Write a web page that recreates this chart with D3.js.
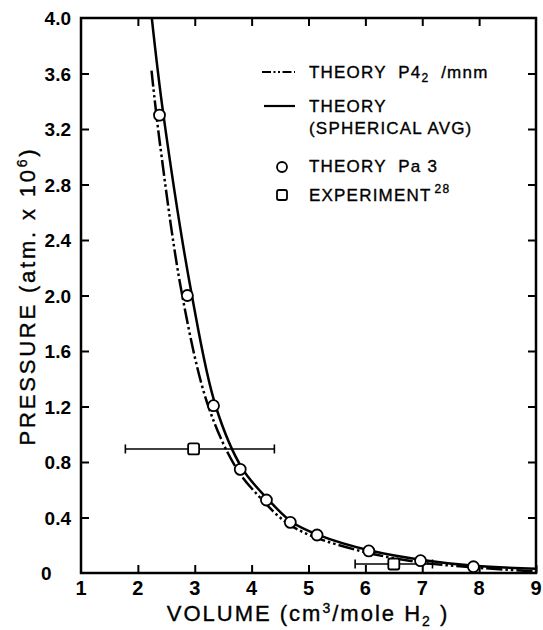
<!DOCTYPE html>
<html>
<head>
<meta charset="utf-8">
<script src="https://cdn.jsdelivr.net/npm/d3@7"></script>
<style>
  body { margin: 0; background: #fff; }
  svg { display: block; }
  text { font-family: "Liberation Sans", Arial, sans-serif; fill: #000; }
  .heavy { stroke: #000; stroke-width: 0.35px; }
</style>
</head>
<body>
<div id="vis"></div>
<script>
const WIDTH = 543;
const HEIGHT = 630;

// curva "THEORY (SPHERICAL AVG)"
const solidV = [2.245, 2.45, 2.95, 3.37, 3.84, 4.30, 4.70, 5.17, 6.08, 7.0, 7.92, 9.0];
const solidP = [4.0, 3.30, 2.0, 1.2, 0.75, 0.526, 0.37, 0.275, 0.162, 0.094, 0.052, 0.03];

// curva "THEORY P4_2/mnm" (punto-raya)
const dashV = [2.24, 2.38, 2.78, 3.24, 3.74, 4.19, 4.59, 5.04, 6.0, 6.95, 7.9, 9.0];
const dashP = [3.62, 3.12, 2.0, 1.2, 0.75, 0.526, 0.37, 0.27, 0.15, 0.078, 0.04, 0.012];

// circulos "THEORY Pa3"
const circV = [2.38, 2.87, 3.33, 3.80, 4.26, 4.68, 5.15, 6.06, 6.97, 7.90];
const circP = [3.30, 2.00, 1.206, 0.747, 0.526, 0.365, 0.274, 0.159, 0.089, 0.045];

// experimento (cuadrados con barras horizontales)
const expV = [2.98, 6.50];
const expP = [0.894, 0.065];
const expLo = [1.78, 5.82];
const expHi = [4.40, 7.18];

const xTicks = [1, 2, 3, 4, 5, 6, 7, 8, 9];
const yTicks = [0, 0.4, 0.8, 1.2, 1.6, 2.0, 2.4, 2.8, 3.2, 3.6, 4.0];

const X0 = 81, X1 = 536, Y0 = 573, Y1 = 18;

const svg = d3.select("#vis").append("svg")
  .attr("width", WIDTH).attr("height", HEIGHT);

const x = d3.scaleLinear().domain([1, 9]).range([X0, X1]);
const y = d3.scaleLinear().domain([0, 4]).range([Y0, Y1]);

svg.append("clipPath").attr("id", "plot")
  .append("rect")
  .attr("x", X0).attr("y", Y1)
  .attr("width", X1 - X0).attr("height", Y0 - Y1);

// ejes con ticks hacia adentro
const TK = 8;
svg.append("g").attr("transform", `translate(0,${Y0})`)
  .call(d3.axisTop(x).tickValues(xTicks.slice(1)).tickSize(TK).tickFormat(""))
  .call(g => g.select(".domain").remove());
svg.append("g").attr("transform", `translate(0,${Y1})`)
  .call(d3.axisBottom(x).tickValues(xTicks.slice(1, -1)).tickSize(TK).tickFormat(""))
  .call(g => g.select(".domain").remove());
svg.append("g").attr("transform", `translate(${X0},0)`)
  .call(d3.axisRight(y).tickValues(yTicks.slice(1, -1)).tickSize(TK).tickFormat(""))
  .call(g => g.select(".domain").remove());
svg.append("g").attr("transform", `translate(${X1},0)`)
  .call(d3.axisLeft(y).tickValues(yTicks.slice(1, -1)).tickSize(TK).tickFormat(""))
  .call(g => g.select(".domain").remove());
svg.selectAll(".tick line").attr("stroke", "#000").attr("stroke-width", 2);

svg.append("rect")
  .attr("x", X0).attr("y", Y1)
  .attr("width", X1 - X0).attr("height", Y0 - Y1)
  .attr("fill", "none").attr("stroke", "#000").attr("stroke-width", 2.5);

// etiquetas de ticks
svg.append("g").selectAll("text")
  .data(xTicks)
  .join("text")
  .attr("x", d => x(d))
  .attr("y", 595)
  .attr("text-anchor", "middle")
  .attr("font-size", 20)
  .attr("font-weight", "bold")
  .text(d => d);

svg.append("g").selectAll("text")
  .data(yTicks)
  .join("text")
  .attr("x", d => d === 0 ? 41 : 71)
  .attr("y", d => y(d) + 7)
  .attr("text-anchor", d => d === 0 ? "start" : "end")
  .attr("font-size", 19)
  .attr("font-weight", "bold")
  .text(d => d === 0 ? "0" : d.toFixed(1));

// titulos de ejes
const xl = svg.append("text")
  .attr("class", "heavy")
  .attr("x", 308).attr("y", 621)
  .attr("text-anchor", "middle")
  .attr("font-size", 22)
  .attr("letter-spacing", 2);
xl.append("tspan").text("VOLUME  (cm");
xl.append("tspan").attr("font-size", 14).attr("dy", -8).text("3");
xl.append("tspan").attr("dy", 8).text("/mole H");
xl.append("tspan").attr("font-size", 14).attr("dy", 5).text("2");
xl.append("tspan").attr("dy", -5).text(" )");

const yl = svg.append("text")
  .attr("class", "heavy")
  .attr("transform", "translate(35,296) rotate(-90)")
  .attr("text-anchor", "middle")
  .attr("font-size", 22)
  .attr("letter-spacing", 2.8);
yl.append("tspan").text("PRESSURE (atm. x 10");
yl.append("tspan").attr("font-size", 14).attr("dy", -8).text("6");
yl.append("tspan").attr("dy", 8).text(")");

// curvas
const linea = d3.line().x(d => x(d[0])).y(d => y(d[1])).curve(d3.curveCatmullRom.alpha(0.5));
const DASH = "16,3,2.5,3,2.5,3";

const plot = svg.append("g").attr("clip-path", "url(#plot)");

plot.append("path")
  .datum(d3.zip(solidV, solidP))
  .attr("d", linea)
  .attr("fill", "none").attr("stroke", "#000").attr("stroke-width", 2.5);

plot.append("path")
  .datum(d3.zip(dashV, dashP))
  .attr("d", linea)
  .attr("fill", "none").attr("stroke", "#000").attr("stroke-width", 2.5)
  .attr("stroke-dasharray", DASH);

// experimento
const expData = d3.zip(expV, expP, expLo, expHi);
const eb = svg.append("g").selectAll("g")
  .data(expData)
  .join("g");
eb.append("line")
  .attr("x1", d => x(d[2])).attr("x2", d => x(d[3]))
  .attr("y1", d => y(d[1])).attr("y2", d => y(d[1]))
  .attr("stroke", "#000").attr("stroke-width", 1.6);
eb.append("line")
  .attr("x1", d => x(d[2])).attr("x2", d => x(d[2]))
  .attr("y1", d => y(d[1]) - 4.5).attr("y2", d => y(d[1]) + 4.5)
  .attr("stroke", "#000").attr("stroke-width", 1.6);
eb.append("line")
  .attr("x1", d => x(d[3])).attr("x2", d => x(d[3]))
  .attr("y1", d => y(d[1]) - 4.5).attr("y2", d => y(d[1]) + 4.5)
  .attr("stroke", "#000").attr("stroke-width", 1.6);
eb.append("rect")
  .attr("x", d => x(d[0]) - 5.5).attr("y", d => y(d[1]) - 5.5)
  .attr("width", 11).attr("height", 11).attr("rx", 2)
  .attr("fill", "#fff").attr("stroke", "#000").attr("stroke-width", 1.8);

// circulos Pa3
svg.append("g").selectAll("circle")
  .data(d3.zip(circV, circP))
  .join("circle")
  .attr("cx", d => x(d[0])).attr("cy", d => y(d[1]))
  .attr("r", 5.5)
  .attr("fill", "#fff").attr("stroke", "#000").attr("stroke-width", 1.8);

// leyenda
const LX = 262, LX2 = 295, TX = 309;
const leg = svg.append("g").attr("font-size", 17).attr("letter-spacing", 1.2);
leg.append("line").attr("x1", LX).attr("x2", LX2).attr("y1", 72).attr("y2", 72)
  .attr("stroke", "#000").attr("stroke-width", 2.2).attr("stroke-dasharray", "9,2.5,2,2.5,2,2.5");
leg.append("line").attr("x1", LX + 2).attr("x2", LX2).attr("y1", 106).attr("y2", 106)
  .attr("stroke", "#000").attr("stroke-width", 2.2);
leg.append("circle").attr("cx", 282).attr("cy", 167).attr("r", 5)
  .attr("fill", "#fff").attr("stroke", "#000").attr("stroke-width", 1.8);
leg.append("rect").attr("x", 277).attr("y", 190).attr("width", 10).attr("height", 10).attr("rx", 2)
  .attr("fill", "#fff").attr("stroke", "#000").attr("stroke-width", 1.8);

const t1 = leg.append("text").attr("class", "heavy").attr("x", TX).attr("y", 78).attr("xml:space", "preserve");
t1.append("tspan").text("THEORY  P4");
t1.append("tspan").attr("font-size", 12).attr("dy", 4).text("2");
t1.append("tspan").attr("dy", -4).text("  /mnm");

leg.append("text").attr("class", "heavy").attr("x", TX).attr("y", 112).text("THEORY");
leg.append("text").attr("class", "heavy").attr("x", TX).attr("y", 134).text("(SPHERICAL AVG)");
leg.append("text").attr("class", "heavy").attr("x", TX).attr("y", 172).attr("xml:space", "preserve").text("THEORY  Pa 3");
const t4 = leg.append("text").attr("class", "heavy").attr("x", TX).attr("y", 201);
t4.append("tspan").text("EXPERIMENT");
t4.append("tspan").attr("font-size", 12).attr("dy", -8).attr("dx", 3).text("28");
</script>
</body>
</html>
